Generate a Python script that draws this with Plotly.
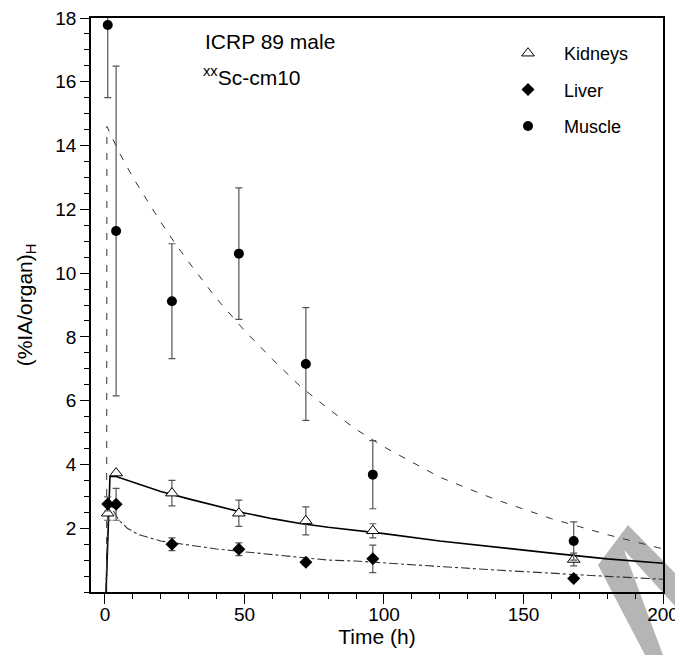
import plotly.graph_objects as go

# ---------------- data ----------------
times = [1, 4, 24, 48, 72, 96, 168]

kidneys = [2.47, 3.73, 3.10, 2.47, 2.23, 1.92, 1.02]
kidneys_err = [0.22, 0.0, 0.40, 0.41, 0.44, 0.22, 0.20]

liver = [2.76, 2.75, 1.50, 1.34, 0.93, 1.04, 0.42]
liver_err = [0.22, 0.50, 0.20, 0.20, 0.08, 0.43, 0.08]

muscle = [17.78, 11.32, 9.12, 10.61, 7.15, 3.68, 1.60]
muscle_err = [2.28, 5.17, 1.80, 2.06, 1.77, 1.07, 0.60]

# model curves
muscle_fit_t = [0.6, 0.7, 5, 10, 15, 20, 25, 30, 40, 50, 60, 70, 80, 90, 100, 120, 140, 160, 180, 200]
muscle_fit_y = [0.0, 14.6, 13.8, 13.0, 12.3, 11.6, 10.95, 10.35, 9.2, 8.2, 7.3, 6.45, 5.75, 5.1, 4.55, 3.6, 2.9, 2.3, 1.8, 1.35]

kidney_fit_t = [0.4, 1.8, 4, 10, 20, 30, 40, 50, 60, 70, 80, 90, 100, 120, 140, 160, 180, 200]
kidney_fit_y = [0.0, 3.62, 3.62, 3.45, 3.15, 2.92, 2.70, 2.48, 2.30, 2.15, 2.03, 1.93, 1.83, 1.60, 1.40, 1.22, 1.04, 0.90]

liver_fit_t = [0.3, 1.3, 3, 5, 8, 12, 20, 30, 40, 50, 60, 70, 80, 90, 100, 120, 140, 160, 180, 200]
liver_fit_y = [0.0, 2.95, 2.55, 2.25, 2.0, 1.8, 1.6, 1.47, 1.35, 1.26, 1.17, 1.08, 1.0, 0.97, 0.92, 0.80, 0.69, 0.58, 0.49, 0.40]

x_ticks = [0, 50, 100, 150, 200]
y_ticks = [2, 4, 6, 8, 10, 12, 14, 16, 18]

FONT = "Liberation Sans, Arial, sans-serif"
W, H = 675, 655
ML, MR, MT, MB = 91, 12, 18, 63
PW, PH = W - ML - MR, H - MT - MB


def px(x):
    return (x - ML) / PW


def py(y):
    return (H - MB - y) / PH


fig = go.Figure()

# fitted curves
fig.add_trace(go.Scatter(x=muscle_fit_t, y=muscle_fit_y, mode="lines", showlegend=False,
                         line=dict(color="#333333", width=1, dash="7px,9px"), hoverinfo="skip"))
fig.add_trace(go.Scatter(x=kidney_fit_t, y=kidney_fit_y, mode="lines", showlegend=False,
                         line=dict(color="black", width=1.6), hoverinfo="skip"))
fig.add_trace(go.Scatter(x=liver_fit_t, y=liver_fit_y, mode="lines", showlegend=False,
                         line=dict(color="#333333", width=1.1, dash="dashdot"), hoverinfo="skip"))

err_style = dict(type="data", visible=True, color="#555555", thickness=1.2, width=3.5)

fig.add_trace(go.Scatter(
    x=times, y=kidneys, mode="markers", name="Kidneys", legendgroup="k",
    marker=dict(symbol="triangle-up", size=11, color="white", line=dict(color="black", width=1)),
    error_y=dict(array=kidneys_err, **err_style)))
fig.add_trace(go.Scatter(
    x=times, y=liver, mode="markers", name="Liver", legendgroup="l",
    marker=dict(symbol="diamond", size=10, color="black"),
    error_y=dict(array=liver_err, **err_style)))
fig.add_trace(go.Scatter(
    x=times, y=muscle, mode="markers", name="Muscle", legendgroup="m",
    marker=dict(symbol="circle", size=10, color="black"),
    error_y=dict(array=muscle_err, **err_style)))

axis_common = dict(
    showgrid=False, zeroline=False, showline=True, linecolor="black", linewidth=1.6,
    mirror=True, ticks="outside", tickcolor="black", tickwidth=1.3, automargin=False,
    tickfont=dict(family=FONT, size=19, color="black"),
)

fig.update_xaxes(
    range=[-5, 200], tickmode="array", tickvals=x_ticks, ticklen=10,
    ticklabeloverflow="allow", ticklabelstandoff=-6,
    minor=dict(tickmode="linear", tick0=0, dtick=10, ticklen=5, ticks="outside",
               tickcolor="black", tickwidth=1.2),
    title=dict(text="Time (h)", font=dict(family=FONT, size=21, color="black"), standoff=3),
    **axis_common)
fig.update_yaxes(
    range=[0, 18], tickmode="array", tickvals=y_ticks, ticklen=9,
    minor=dict(tickmode="linear", tick0=0, dtick=0.5, ticklen=5, ticks="outside",
               tickcolor="black", tickwidth=1.2),
    title=dict(text="(%IA/organ)<sub>H</sub>", font=dict(family=FONT, size=21, color="black"), standoff=17),
    **axis_common)

fig.add_annotation(x=px(203), y=py(42), xref="paper", yref="paper", xanchor="left", yanchor="middle",
                   text="ICRP 89 male", showarrow=False, font=dict(family=FONT, size=21, color="black"))
fig.add_annotation(x=px(201), y=py(76), xref="paper", yref="paper", xanchor="left", yanchor="middle",
                   text="<sup>xx</sup>Sc-cm10", showarrow=False, font=dict(family=FONT, size=21, color="black"))

# grey watermark stroke seen in the lower right of the picture
path_pts = [(598, 565), (628, 525), (675, 573), (675, 606), (624, 550), (663, 655), (645, 655)]
path = "M " + " L ".join(f"{px(a):.4f},{py(b):.4f}" for a, b in path_pts) + " Z"
fig.add_shape(type="path", path=path, xref="paper", yref="paper", fillcolor="#b5b5b5",
              line=dict(width=0), layer="below")

fig.update_layout(
    width=W, height=H, autosize=False,
    margin=dict(l=ML, r=MR, t=MT, b=MB, pad=0, autoexpand=False),
    paper_bgcolor="white", plot_bgcolor="white",
    showlegend=True,
    legend=dict(x=px(492), y=py(35), xanchor="left", yanchor="top",
                font=dict(family=FONT, size=18, color="black"),
                bgcolor="rgba(0,0,0,0)", borderwidth=0, itemwidth=62,
                traceorder="grouped", tracegroupgap=10),
)

fig.write_html("out.html")
